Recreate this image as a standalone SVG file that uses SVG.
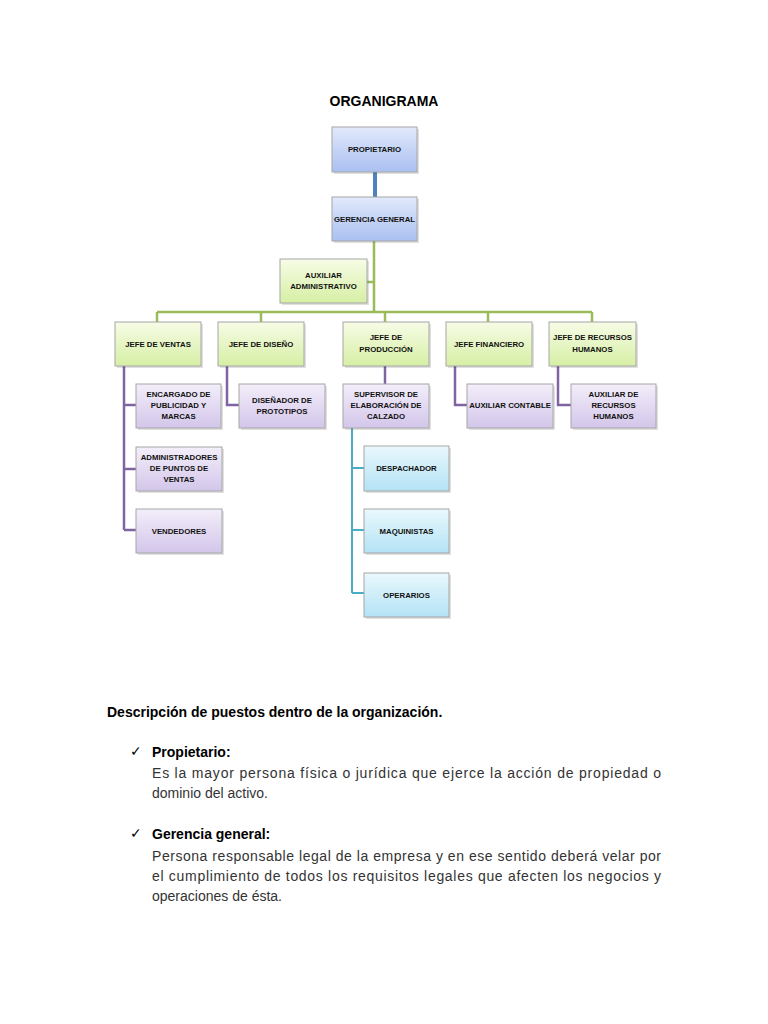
<svg xmlns="http://www.w3.org/2000/svg" width="768" height="1024" viewBox="0 0 768 1024">
<defs>
<linearGradient id="gBlue" x1="0" y1="0" x2="0" y2="1"><stop offset="0" stop-color="#e2e9fb"/><stop offset="1" stop-color="#a9c0f1"/></linearGradient>
<linearGradient id="gGreen" x1="0" y1="0" x2="0" y2="1"><stop offset="0" stop-color="#f7fce6"/><stop offset="1" stop-color="#d6efa4"/></linearGradient>
<linearGradient id="gPurple" x1="0" y1="0" x2="0" y2="1"><stop offset="0" stop-color="#f3eefa"/><stop offset="1" stop-color="#d3c6ea"/></linearGradient>
<linearGradient id="gCyan" x1="0" y1="0" x2="0" y2="1"><stop offset="0" stop-color="#eaf8fd"/><stop offset="1" stop-color="#b3e2f5"/></linearGradient>
</defs>
<style>
.box{stroke:#a6a6a6;stroke-width:1}
.sh{fill:#000;opacity:0.12}
.blue{fill:url(#gBlue)}
.green{fill:url(#gGreen)}
.purple{fill:url(#gPurple)}
.cyan{fill:url(#gCyan)}
.t{font-family:"Liberation Sans",Arial,sans-serif;font-weight:bold;font-size:7.8px;fill:#111;text-anchor:middle}
.cb{fill:none;stroke:#4f81bd;stroke-width:4}
.cg{fill:none;stroke:#9bbb59;stroke-width:2.5}
.cp{fill:none;stroke:#8064a2;stroke-width:2.5}
.cc{fill:none;stroke:#4bacc6;stroke-width:2}
.h{font-family:"Liberation Sans",Arial,sans-serif;font-weight:bold;font-size:14px;fill:#000}
.b{font-family:"Liberation Sans",Arial,sans-serif;font-size:14px;fill:#333}
</style>
<rect width="768" height="1024" fill="#fff"/>
<text class="h" x="384" y="106" text-anchor="middle">ORGANIGRAMA</text>

<g id="connectors">
<path class="cb" d="M375,172 V197"/>
<path class="cg" d="M374,241 V312 M367,282 H374 M157,312 H592 M157,312 V322 M261,312 V322 M385,312 V322 M488,312 V322 M592,312 V322"/>
<path class="cp" d="M124,366 V530 M124,405 H136 M124,469 H136 M124,530 H136"/>
<path class="cp" d="M227,366 V405 H239"/>
<path class="cp" d="M385,366 V384"/>
<path class="cp" d="M455,366 V405 H467"/>
<path class="cp" d="M558,366 V405 H571"/>
<path class="cc" d="M352,428 V593 M352,468 H364 M352,530 H364 M352,593 H364"/>
</g>

<g id="propietario"><rect class="sh" x="334" y="129" width="85" height="45"/><rect class="box blue" x="332" y="127" width="85" height="45"/><text class="t" x="374.5" y="152">PROPIETARIO</text></g>
<g id="gerencia"><rect class="sh" x="334" y="199" width="85" height="44"/><rect class="box blue" x="332" y="197" width="85" height="44"/><text class="t" x="374.5" y="222">GERENCIA GENERAL</text></g>
<g id="auxadm"><rect class="sh" x="282" y="261" width="87" height="44"/><rect class="box green" x="280" y="259" width="87" height="44"/><text class="t" x="323.5" y="278">AUXILIAR</text><text class="t" x="323.5" y="289">ADMINISTRATIVO</text></g>
<g id="jventas"><rect class="sh" x="117" y="324" width="86" height="44"/><rect class="box green" x="115" y="322" width="86" height="44"/><text class="t" x="158" y="347">JEFE DE VENTAS</text></g>
<g id="jdiseno"><rect class="sh" x="220" y="324" width="86" height="44"/><rect class="box green" x="218" y="322" width="86" height="44"/><text class="t" x="261" y="347">JEFE DE DISEÑO</text></g>
<g id="jprod"><rect class="sh" x="345" y="324" width="86" height="44"/><rect class="box green" x="343" y="322" width="86" height="44"/><text class="t" x="386" y="340">JEFE DE</text><text class="t" x="386" y="352">PRODUCCIÓN</text></g>
<g id="jfin"><rect class="sh" x="448" y="324" width="86" height="44"/><rect class="box green" x="446" y="322" width="86" height="44"/><text class="t" x="489" y="347">JEFE FINANCIERO</text></g>
<g id="jrrhh"><rect class="sh" x="551" y="324" width="87" height="44"/><rect class="box green" x="549" y="322" width="87" height="44"/><text class="t" x="592.5" y="340">JEFE DE RECURSOS</text><text class="t" x="592.5" y="352">HUMANOS</text></g>
<g id="encargado"><rect class="sh" x="138" y="386" width="85" height="44"/><rect class="box purple" x="136" y="384" width="85" height="44"/><text class="t" x="178.5" y="397">ENCARGADO DE</text><text class="t" x="178.5" y="408">PUBLICIDAD Y</text><text class="t" x="178.5" y="419">MARCAS</text></g>
<g id="disenador"><rect class="sh" x="241" y="386" width="86" height="44"/><rect class="box purple" x="239" y="384" width="86" height="44"/><text class="t" x="282" y="403">DISEÑADOR DE</text><text class="t" x="282" y="414">PROTOTIPOS</text></g>
<g id="supervisor"><rect class="sh" x="345" y="386" width="86" height="44"/><rect class="box purple" x="343" y="384" width="86" height="44"/><text class="t" x="386" y="397">SUPERVISOR DE</text><text class="t" x="386" y="408">ELABORACIÓN DE</text><text class="t" x="386" y="419">CALZADO</text></g>
<g id="auxcontable"><rect class="sh" x="469" y="386" width="86" height="44"/><rect class="box purple" x="467" y="384" width="86" height="44"/><text class="t" x="510" y="408">AUXILIAR CONTABLE</text></g>
<g id="auxrrhh"><rect class="sh" x="573" y="386" width="85" height="44"/><rect class="box purple" x="571" y="384" width="85" height="44"/><text class="t" x="613.5" y="397">AUXILIAR DE</text><text class="t" x="613.5" y="408">RECURSOS</text><text class="t" x="613.5" y="419">HUMANOS</text></g>
<g id="administradores"><rect class="sh" x="138" y="449" width="86" height="44"/><rect class="box purple" x="136" y="447" width="86" height="44"/><text class="t" x="179" y="460">ADMINISTRADORES</text><text class="t" x="179" y="471">DE PUNTOS DE</text><text class="t" x="179" y="482">VENTAS</text></g>
<g id="vendedores"><rect class="sh" x="138" y="511" width="86" height="44"/><rect class="box purple" x="136" y="509" width="86" height="44"/><text class="t" x="179" y="534">VENDEDORES</text></g>
<g id="despachador"><rect class="sh" x="366" y="448" width="85" height="45"/><rect class="box cyan" x="364" y="446" width="85" height="45"/><text class="t" x="406.5" y="471">DESPACHADOR</text></g>
<g id="maquinistas"><rect class="sh" x="366" y="511" width="85" height="44"/><rect class="box cyan" x="364" y="509" width="85" height="44"/><text class="t" x="406.5" y="534">MAQUINISTAS</text></g>
<g id="operarios"><rect class="sh" x="366" y="575" width="85" height="44"/><rect class="box cyan" x="364" y="573" width="85" height="44"/><text class="t" x="406.5" y="598">OPERARIOS</text></g>

<g id="description">
<text class="h" x="107" y="717">Descripción de puestos dentro de la organización.</text>
<text class="b" x="130" y="756" style="fill:#000">✓</text>
<text class="h" x="152" y="757">Propietario:</text>
<text class="b" x="152" y="778" textLength="509" lengthAdjust="spacing">Es la mayor persona física o jurídica que ejerce la acción de propiedad o</text>
<text class="b" x="152" y="798">dominio del activo.</text>
<text class="b" x="130" y="838" style="fill:#000">✓</text>
<text class="h" x="152" y="839">Gerencia general:</text>
<text class="b" x="152" y="861" textLength="509" lengthAdjust="spacing">Persona responsable legal de la empresa y en ese sentido deberá velar por</text>
<text class="b" x="152" y="881" textLength="509" lengthAdjust="spacing">el cumplimiento de todos los requisitos legales que afecten los negocios y</text>
<text class="b" x="152" y="901">operaciones de ésta.</text>
</g>
</svg>
